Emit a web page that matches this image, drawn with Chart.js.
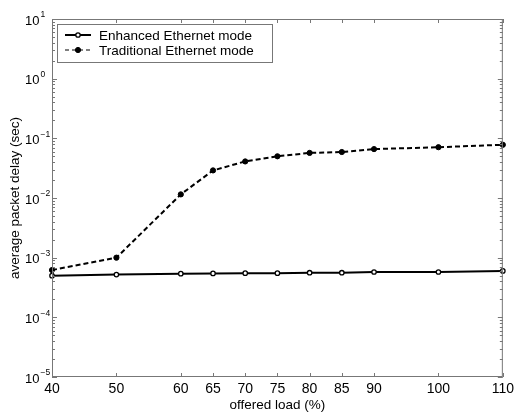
<!DOCTYPE html>
<html>
<head>
<meta charset="utf-8">
<script src="https://cdn.jsdelivr.net/npm/chart.js@4.4.1/dist/chart.umd.min.js"></script>
<style>
  html, body { margin: 0; padding: 0; background: #fff; }
</style>
</head>
<body>
<canvas id="delaychart" width="518" height="412"></canvas>
<script>
'use strict';

// offered load (%) on the x axis
var offeredLoad = [40, 50, 60, 65, 70, 75, 80, 85, 90, 100, 110];
// average packet delay (sec)
var enhancedDelay = [5.0e-4, 5.2e-4, 5.4e-4, 5.45e-4, 5.5e-4, 5.5e-4, 5.6e-4, 5.6e-4, 5.75e-4, 5.75e-4, 6.0e-4];
var traditionalDelay = [6.2e-4, 1.0e-3, 1.15e-2, 2.9e-2, 4.1e-2, 5.0e-2, 5.7e-2, 5.9e-2, 6.6e-2, 7.1e-2, 7.8e-2];
var seriesNames = ['Enhanced Ethernet mode', 'Traditional Ethernet mode'];
var xTickValues = [40, 50, 60, 65, 70, 75, 80, 85, 90, 100, 110];
var yExponents = [-5, -4, -3, -2, -1, 0, 1];

var fontFamily = '"Liberation Sans", Arial, Helvetica, sans-serif';
var frameColor = '#777';

function toPoints(xs, ys) {
  var pts = [];
  for (var i = 0; i < xs.length; i++) {
    pts.push({x: xs[i], y: ys[i]});
  }
  return pts;
}

// matlab style box, inward ticks, 10^n labels and the legend box
var matlabAxes = {
  id: 'matlabAxes',
  afterDatasetsDraw: function(chart) {
    var ctx = chart.ctx;
    var area = chart.chartArea;
    var xs = chart.scales.x;
    var ys = chart.scales.y;
    ctx.save();
    ctx.strokeStyle = frameColor;
    ctx.lineWidth = 1;
    ctx.strokeRect(area.left + 0.5, area.top + 0.5, area.right - area.left - 1, area.bottom - area.top - 1);

    ctx.beginPath();
    xTickValues.forEach(function(v) {
      var px = Math.round(xs.getPixelForValue(v)) + 0.5;
      ctx.moveTo(px, area.bottom);
      ctx.lineTo(px, area.bottom - 4);
      ctx.moveTo(px, area.top);
      ctx.lineTo(px, area.top + 4);
    });
    yExponents.forEach(function(e) {
      var py = Math.round(ys.getPixelForValue(Math.pow(10, e))) + 0.5;
      ctx.moveTo(area.left, py);
      ctx.lineTo(area.left + 5, py);
      ctx.moveTo(area.right, py);
      ctx.lineTo(area.right - 5, py);
      if (e < 1) {
        for (var m = 2; m < 10; m++) {
          var pm = Math.round(ys.getPixelForValue(m * Math.pow(10, e))) + 0.5;
          ctx.moveTo(area.left, pm);
          ctx.lineTo(area.left + 3, pm);
          ctx.moveTo(area.right, pm);
          ctx.lineTo(area.right - 3, pm);
        }
      }
    });
    ctx.stroke();

    // y tick labels as 10 with a raised exponent
    ctx.fillStyle = '#000';
    yExponents.forEach(function(e) {
      var py = ys.getPixelForValue(Math.pow(10, e));
      ctx.font = '13px ' + fontFamily;
      ctx.textAlign = 'right';
      ctx.textBaseline = 'middle';
      ctx.fillText('10', 39.5, py + 2);
      ctx.font = '8.5px ' + fontFamily;
      ctx.textAlign = 'left';
      ctx.fillText(String(e).replace('-', '\u2212'), 40.5, py - 4);
    });

    // legend
    var lx = 57, ly = 24, lw = 215, lh = 38;
    ctx.fillStyle = '#fff';
    ctx.fillRect(lx, ly, lw, lh);
    ctx.strokeStyle = frameColor;
    ctx.lineWidth = 1;
    ctx.strokeRect(lx + 0.5, ly + 0.5, lw, lh);
    chart.data.datasets.forEach(function(ds, i) {
      var rowY = ly + 11 + i * 15;
      ctx.strokeStyle = ds.borderColor;
      ctx.lineWidth = i === 0 ? ds.borderWidth : 1.2;
      ctx.setLineDash(i === 0 ? [] : [4, 3]);
      ctx.beginPath();
      ctx.moveTo(65, rowY);
      ctx.lineTo(91, rowY);
      ctx.stroke();
      ctx.setLineDash([]);
      ctx.beginPath();
      ctx.arc(78, rowY, ds.pointRadius, 0, Math.PI * 2);
      ctx.fillStyle = ds.pointBackgroundColor;
      ctx.fill();
      ctx.lineWidth = ds.pointBorderWidth;
      ctx.strokeStyle = ds.pointBorderColor;
      ctx.stroke();
      ctx.fillStyle = '#000';
      ctx.font = '13.5px ' + fontFamily;
      ctx.textAlign = 'left';
      ctx.textBaseline = 'middle';
      ctx.fillText(ds.label, 99, rowY + 1);
    });
    ctx.restore();
  }
};

var ctx = document.getElementById('delaychart').getContext('2d');
var chart = new Chart(ctx, {
  type: 'line',
  data: {
    datasets: [{
      label: seriesNames[0],
      data: toPoints(offeredLoad, enhancedDelay),
      borderColor: '#000',
      borderWidth: 2,
      pointRadius: 2.2,
      pointBackgroundColor: '#fff',
      pointBorderColor: '#000',
      pointBorderWidth: 1.3,
      tension: 0,
      clip: 6
    }, {
      label: seriesNames[1],
      data: toPoints(offeredLoad, traditionalDelay),
      borderColor: '#000',
      borderWidth: 2,
      borderDash: [5, 3],
      pointRadius: 2.6,
      pointBackgroundColor: '#000',
      pointBorderColor: '#000',
      pointBorderWidth: 1,
      tension: 0,
      clip: 6
    }]
  },
  options: {
    responsive: false,
    animation: false,
    layout: { padding: { top: 19, right: 11, left: 0, bottom: 0 } },
    plugins: {
      legend: { display: false },
      tooltip: { enabled: false }
    },
    scales: {
      x: {
        type: 'linear',
        min: 40,
        max: 110,
        grid: { display: false, drawTicks: false },
        border: { display: false },
        afterBuildTicks: function(scale) {
          scale.ticks = xTickValues.map(function(v) { return {value: v}; });
        },
        afterFit: function(scale) { scale.height = 35; },
        ticks: {
          color: '#000',
          font: { size: 14, family: fontFamily },
          padding: 4,
          maxRotation: 0,
          autoSkip: false
        },
        title: {
          display: true,
          text: 'offered load (%)',
          color: '#000',
          font: { size: 13.5, family: fontFamily, lineHeight: 1 },
          padding: { top: 0, bottom: 0 }
        }
      },
      y: {
        type: 'logarithmic',
        min: 1e-5,
        max: 10,
        grid: { display: false, drawTicks: false },
        border: { display: false },
        ticks: { display: false },
        afterFit: function(scale) { scale.width = 52; },
        title: {
          display: true,
          text: 'average packet delay (sec)',
          color: '#000',
          font: { size: 13.5, family: fontFamily },
          padding: { top: 7, bottom: 0 }
        }
      }
    }
  },
  plugins: [matlabAxes]
});
</script>
</body>
</html>
